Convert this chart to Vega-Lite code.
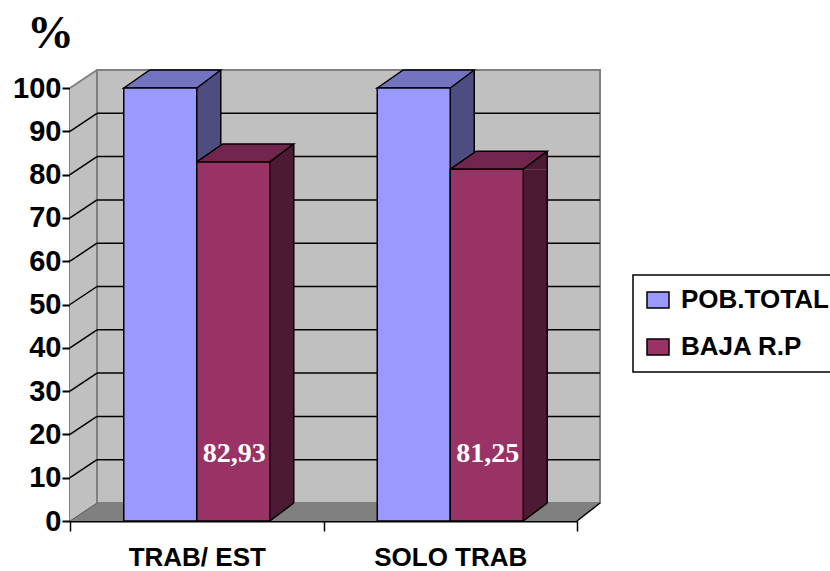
{
  "$schema": "https://vega.github.io/schema/vega-lite/v6.json",
  "autosize": {"type": "none"},
  "width": 507,
  "height": 433,
  "padding": {"left": 70, "top": 88, "right": 253, "bottom": 50},
  "background": "white",
  "datasets": {
    "bars": [
      {"cat": "TRAB/ EST", "serie": "POB.TOTAL", "value": 100},
      {"cat": "TRAB/ EST", "serie": "BAJA R.P", "value": 82.93},
      {"cat": "SOLO TRAB", "serie": "POB.TOTAL", "value": 100},
      {"cat": "SOLO TRAB", "serie": "BAJA R.P", "value": 81.25}
    ],
    "ticks": [{"v": 10}, {"v": 20}, {"v": 30}, {"v": 40}, {"v": 50}, {"v": 60}, {"v": 70}, {"v": 80}, {"v": 90}],
    "frame": [{}]
  },
  "config": {
    "view": {"stroke": null},
    "font": "Liberation Sans",
    "locale": {"number": {"decimal": ",", "thousands": ".", "grouping": [3], "currency": ["", ""]}},
    "axis": {"zindex": 1, "grid": false, "domainColor": "black", "tickColor": "black", "labelColor": "black", "labelFont": "Liberation Sans", "labelFontWeight": "bold"},
    "axisY": {"tickCount": 10, "tickSize": 8, "tickWidth": 2, "domainWidth": 2, "labelFontSize": 29, "labelPadding": 1,
      "titleFont": "Liberation Serif", "titleFontSize": 47, "titleFontWeight": "bold", "titleColor": "black", "titleAngle": 0,
      "titleX": -20, "titleY": -41, "titleAlign": "center", "titleBaseline": "alphabetic"},
    "axisX": {"tickBand": "extent", "tickSize": 10, "tickWidth": 1.5, "domainWidth": 2, "labelFontSize": 26, "labelPadding": 13, "labelAngle": 0},
    "legend": {"orient": "none", "legendX": 563, "legendY": 187, "direction": "vertical", "strokeColor": "black", "strokeWidth": 1.5,
      "fillColor": "white", "padding": 12, "symbolType": "M-1.375,-1H1.375V1H-1.375Z", "symbolSize": 256, "symbolStrokeColor": "black",
      "symbolStrokeWidth": 1.5, "symbolOpacity": 1, "labelFont": "Liberation Sans", "labelFontWeight": "bold", "labelFontSize": 26,
      "labelColor": "black", "labelOffset": 10, "labelLimit": 400, "rowPadding": 21}
  },
  "layer": [
    {
      "data": {"name": "frame"},
      "mark": {"type": "rect", "fill": "#C0C0C0", "stroke": "#808080", "strokeWidth": 2, "xOffset": 27, "x2Offset": 23, "yOffset": -18, "y2Offset": -18},
      "encoding": {
        "x": {"value": 0}, "x2": {"value": "width"},
        "y": {"datum": 100, "type": "quantitative", "title": "%", "scale": {"domain": [0, 100], "nice": false}},
        "y2": {"datum": 0}
      }
    },
    {
      "data": {"name": "frame"},
      "mark": {"type": "rect", "fill": "#C0C0C0", "x2Offset": 27, "yOffset": -18},
      "encoding": {
        "x": {"value": 0}, "x2": {"value": 0},
        "y": {"datum": 100, "type": "quantitative", "title": "%"}, "y2": {"datum": 0}
      }
    },
    {
      "data": {"name": "frame"},
      "mark": {"type": "point", "shape": "M0,0L0,-18L27,-18Z", "size": 4, "filled": true, "fill": "white", "strokeWidth": 0, "opacity": 1},
      "encoding": {"x": {"value": 0}, "y": {"datum": 100, "type": "quantitative", "title": "%"}}
    },
    {
      "data": {"name": "frame"},
      "mark": {"type": "rect", "fill": "#808080", "xOffset": 27, "yOffset": -18},
      "encoding": {
        "x": {"value": 0}, "x2": {"value": "width"},
        "y": {"datum": 0, "type": "quantitative", "title": "%"}, "y2": {"datum": 0}
      }
    },
    {
      "data": {"name": "frame"},
      "mark": {"type": "point", "shape": "M0,0L27,-18L27,0Z", "size": 4, "filled": true, "fill": "#808080", "strokeWidth": 0, "opacity": 1},
      "encoding": {"x": {"value": 0}, "y": {"datum": 0, "type": "quantitative", "title": "%"}}
    },
    {
      "data": {"name": "frame"},
      "mark": {"type": "point", "shape": "M0,0L0,-18L23,-18Z", "size": 4, "filled": true, "fill": "#808080", "strokeWidth": 0, "opacity": 1},
      "encoding": {"x": {"value": "width"}, "y": {"datum": 0, "type": "quantitative", "title": "%"}}
    },
    {
      "data": {"name": "frame"},
      "mark": {"type": "rule", "stroke": "#808080", "strokeWidth": 2, "xOffset": 27, "yOffset": -18, "y2Offset": -18},
      "encoding": {"x": {"value": 0}, "y": {"datum": 100, "type": "quantitative", "title": "%"}, "y2": {"datum": 0}}
    },
    {
      "data": {"name": "ticks"},
      "mark": {"type": "rule", "stroke": "black", "strokeWidth": 1.5, "xOffset": 27, "x2Offset": 23, "yOffset": -18},
      "encoding": {"x": {"value": 0}, "x2": {"value": "width"}, "y": {"field": "v", "type": "quantitative", "title": "%"}}
    },
    {
      "data": {"name": "ticks"},
      "mark": {"type": "rule", "stroke": "black", "strokeWidth": 1.5, "x2Offset": 27, "y2Offset": -18},
      "encoding": {"x": {"value": 0}, "x2": {"value": 0}, "y": {"field": "v", "type": "quantitative", "title": "%"}, "y2": {"field": "v"}}
    },
    {
      "data": {"name": "frame"},
      "mark": {"type": "rule", "stroke": "#808080", "strokeWidth": 2, "x2Offset": 27, "y2Offset": -18},
      "encoding": {"x": {"value": 0}, "x2": {"value": 0}, "y": {"datum": 100, "type": "quantitative", "title": "%"}, "y2": {"datum": 100}}
    },
    {
      "data": {"name": "frame"},
      "mark": {"type": "rule", "stroke": "#5A5A5A", "strokeWidth": 1, "x2Offset": 27, "y2Offset": -18},
      "encoding": {"x": {"value": 0}, "x2": {"value": 0}, "y": {"datum": 0, "type": "quantitative", "title": "%"}, "y2": {"datum": 0}}
    },
    {
      "data": {"name": "frame"},
      "mark": {"type": "rule", "stroke": "black", "strokeWidth": 1.5, "x2Offset": 23, "y2Offset": -18},
      "encoding": {"x": {"value": "width"}, "x2": {"value": "width"}, "y": {"datum": 0, "type": "quantitative", "title": "%"}, "y2": {"datum": 0}}
    },

    {
      "data": {"name": "bars"},
      "transform": [{"filter": "datum.serie === 'POB.TOTAL'"}],
      "mark": {"type": "bar", "width": 24, "xOffset": 12, "fill": "#4D4D80", "y2Offset": -18},
      "encoding": {
        "x": {"field": "cat", "type": "nominal", "title": null, "scale": {"type": "band", "domain": ["TRAB/ EST", "SOLO TRAB"], "paddingInner": 0, "paddingOuter": 0}},
        "y": {"field": "value", "type": "quantitative", "title": "%"}, "y2": {"datum": 0}
      }
    },
    {
      "data": {"name": "bars"},
      "transform": [{"filter": "datum.serie === 'POB.TOTAL'"}],
      "mark": {"type": "point", "shape": "M36.5,0L60.5,-18L60.5,0Z", "size": 4, "xOffset": -36.5, "filled": true, "fill": "#4D4D80", "strokeWidth": 0, "opacity": 1},
      "encoding": {"x": {"field": "cat", "type": "nominal", "title": null}, "y": {"field": "value", "type": "quantitative", "title": "%"}}
    },
    {
      "data": {"name": "bars"},
      "transform": [{"filter": "datum.serie === 'POB.TOTAL'"}],
      "mark": {"type": "rule", "stroke": "black", "strokeWidth": 1.5, "xOffset": 24, "yOffset": -18, "y2Offset": -18},
      "encoding": {"x": {"field": "cat", "type": "nominal", "title": null}, "y": {"field": "value", "type": "quantitative", "title": "%"}, "y2": {"datum": 0}}
    },

    {
      "data": {"name": "bars"},
      "transform": [{"filter": "datum.serie === 'BAJA R.P'"}],
      "mark": {"type": "bar", "width": 24, "xOffset": 85, "fill": "#4D1A33", "y2Offset": -18},
      "encoding": {"x": {"field": "cat", "type": "nominal", "title": null}, "y": {"field": "value", "type": "quantitative", "title": "%"}, "y2": {"datum": 0}}
    },
    {
      "data": {"name": "bars"},
      "transform": [{"filter": "datum.serie === 'BAJA R.P'"}],
      "mark": {"type": "point", "shape": "M36.5,0L60.5,-18L60.5,0Z", "size": 4, "xOffset": 36.5, "filled": true, "fill": "#4D1A33", "strokeWidth": 0, "opacity": 1},
      "encoding": {"x": {"field": "cat", "type": "nominal", "title": null}, "y": {"field": "value", "type": "quantitative", "title": "%"}}
    },
    {
      "data": {"name": "bars"},
      "transform": [{"filter": "datum.serie === 'BAJA R.P'"}],
      "mark": {"type": "point", "shape": "M36.5,-18L36.5,0L60.5,-18Z", "size": 4, "xOffset": 36.5, "filled": true, "fill": "#4D1A33", "strokeWidth": 0, "opacity": 1},
      "encoding": {"x": {"field": "cat", "type": "nominal", "title": null}, "y": {"datum": 0, "type": "quantitative", "title": "%"}}
    },
    {
      "data": {"name": "bars"},
      "transform": [{"filter": "datum.serie === 'BAJA R.P'"}],
      "mark": {"type": "rule", "stroke": "black", "strokeWidth": 1.5, "xOffset": 97, "yOffset": -18, "y2Offset": -18},
      "encoding": {"x": {"field": "cat", "type": "nominal", "title": null}, "y": {"field": "value", "type": "quantitative", "title": "%"}, "y2": {"datum": 0}}
    },
    {
      "data": {"name": "bars"},
      "transform": [{"filter": "datum.serie === 'BAJA R.P'"}],
      "mark": {"type": "point", "shape": "M36.5,0L60.5,-18", "size": 4, "xOffset": 36.5, "filled": false, "stroke": "black", "strokeWidth": 1.5, "opacity": 1},
      "encoding": {"x": {"field": "cat", "type": "nominal", "title": null}, "y": {"datum": 0, "type": "quantitative", "title": "%"}}
    },

    {
      "data": {"name": "bars"},
      "transform": [{"filter": "datum.serie === 'POB.TOTAL'"}],
      "mark": {"type": "point", "shape": "M-36.5,0L-10.5,-18L60.5,-18L36.5,0Z", "size": 4, "xOffset": -36.5, "filled": true, "fill": "#7373BF", "stroke": "black", "strokeWidth": 1.5, "opacity": 1},
      "encoding": {"x": {"field": "cat", "type": "nominal", "title": null}, "y": {"field": "value", "type": "quantitative", "title": "%"}}
    },
    {
      "data": {"name": "bars"},
      "transform": [{"filter": "datum.serie === 'BAJA R.P'"}],
      "mark": {"type": "point", "shape": "M-36.5,0L-10.5,-18L60.5,-18L36.5,0Z", "size": 4, "xOffset": 36.5, "filled": true, "fill": "#73264D", "stroke": "black", "strokeWidth": 1.5, "opacity": 1},
      "encoding": {"x": {"field": "cat", "type": "nominal", "title": null}, "y": {"field": "value", "type": "quantitative", "title": "%"}}
    },

    {
      "data": {"name": "bars"},
      "transform": [{"filter": "datum.serie === 'POB.TOTAL'"}],
      "mark": {"type": "bar", "width": 73, "xOffset": -36.5, "stroke": "black", "strokeWidth": 1.5},
      "encoding": {
        "x": {"field": "cat", "type": "nominal", "title": null},
        "y": {"field": "value", "type": "quantitative", "title": "%"},
        "color": {"field": "serie", "type": "nominal", "title": null, "scale": {"domain": ["POB.TOTAL", "BAJA R.P"], "range": ["#9999FF", "#993366"]}}
      }
    },
    {
      "data": {"name": "bars"},
      "transform": [{"filter": "datum.serie === 'BAJA R.P'"}],
      "mark": {"type": "bar", "width": 73, "xOffset": 36.5, "stroke": "black", "strokeWidth": 1.5},
      "encoding": {
        "x": {"field": "cat", "type": "nominal", "title": null},
        "y": {"field": "value", "type": "quantitative", "title": "%"},
        "color": {"field": "serie", "type": "nominal", "title": null}
      }
    },
    {
      "data": {"name": "bars"},
      "transform": [{"filter": "datum.serie === 'BAJA R.P'"}],
      "mark": {"type": "text", "align": "left", "baseline": "alphabetic", "xOffset": 6, "yOffset": -59, "font": "Liberation Serif", "fontSize": 28, "fontWeight": "bold", "color": "white"},
      "encoding": {
        "x": {"field": "cat", "type": "nominal", "title": null},
        "y": {"datum": 0, "type": "quantitative", "title": "%"},
        "text": {"field": "value", "type": "quantitative", "format": ".2f"}
      }
    }
  ]
}
